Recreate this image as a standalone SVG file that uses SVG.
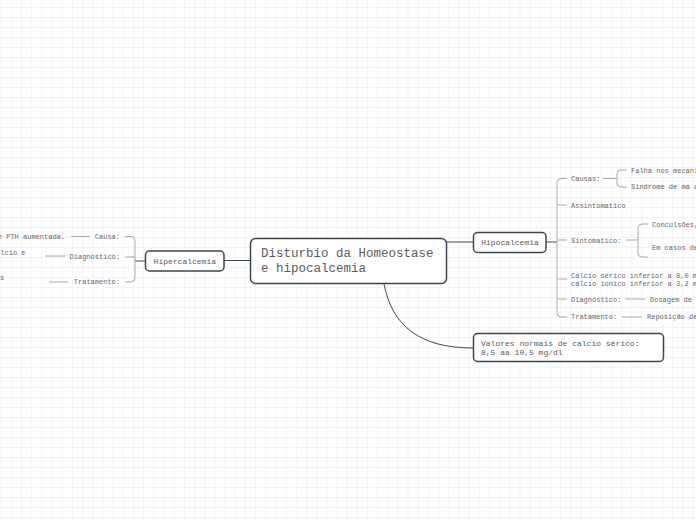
<svg xmlns="http://www.w3.org/2000/svg" width="696" height="520" viewBox="0 0 696 520">
<defs>
<pattern id="grid" x="0.8" y="7" width="10.17" height="10" patternUnits="userSpaceOnUse">
<path d="M0.5,0 V10 M0,0.5 H10.17" fill="none" stroke="#f3f3f3" stroke-width="1"/>
</pattern>
<style>
.node{fill:#fff;stroke:#3b4650;stroke-width:1.5}
.main{fill:none;stroke:#3b4650;stroke-width:1}
.sub{fill:none;stroke:#a8a8a8;stroke-width:1}
.t{font-family:"Courier New",Courier,"Nimbus Mono PS","FreeMono","Liberation Mono",monospace;fill:#5a5a5a}
.big{font-size:12.5px}
.mid{font-size:8px}
.sm{font-size:7px;fill:#666}
</style>
</defs>
<rect width="696" height="520" fill="#fff"/>
<rect width="696" height="520" fill="url(#grid)"/>

<g id="connectors">
<path class="main" d="M446,242 H473"/>
<path class="main" d="M224,260.5 H250"/>
<path class="main" d="M384,284 C392,326 420,348 473,348"/>
<path class="main" d="M546,242 H557"/>
<path class="main" d="M145,261 H135"/>
<path class="sub" d="M567,178.5 H561 Q557,178.5 557,182.5 V313 Q557,317 561,317 H567 M557,205 H567 M557,240 H567 M557,279 H567 M557,299 H567"/>
<path class="sub" d="M603,178.5 H617 M627,170 H621 Q617,170 617,174 V183 Q617,187 621,187 H627"/>
<path class="sub" d="M626,240 H638 M648,224 H642 Q638,224 638,228 V253 Q638,257 642,257 H648"/>
<path class="sub" d="M625,299 H645 M622,317 H642"/>
<path class="sub" d="M125,236.5 H131 Q135,236.5 135,240.5 V278 Q135,282 131,282 H125 M135,257 H125"/>
<path class="sub" d="M71,236.5 H90 M45,256 H65 M49,282 H68"/>
</g>

<g id="central">
<rect class="node" x="250.5" y="238.5" width="196" height="45" rx="5"/>
<text class="t big" x="261" y="257">Disturbio da Homeostase</text>
<text class="t big" x="261" y="272">e hipocalcemia</text>
</g>

<g id="hipocalcemia">
<rect class="node" x="473.5" y="232.5" width="72.5" height="20" rx="4"/>
<text class="t mid" x="510" y="245" text-anchor="middle">Hipocalcemia</text>
</g>

<g id="hipercalcemia">
<rect class="node" x="145.5" y="251" width="78.5" height="20" rx="4"/>
<text class="t mid" x="184.8" y="263.5" text-anchor="middle">Hipercalcemia</text>
</g>

<g id="valores">
<rect class="node" x="473.5" y="333.5" width="190" height="28" rx="4"/>
<text class="t mid" x="481" y="345.5">Valores normais de calcio sérico:</text>
<text class="t mid" x="481" y="354.5">8,5 aa 10,5 mg/dl</text>
</g>

<g id="hipo-causas"><text class="t sm" x="571" y="181">Causas:</text></g>
<g id="hipo-falha"><text class="t sm" x="631" y="172.5">Falha nos mecanismos</text></g>
<g id="hipo-sindrome"><text class="t sm" x="631" y="189">Sindrome de má absorção</text></g>
<g id="hipo-assint"><text class="t sm" x="571" y="207.5">Assintomatico</text></g>
<g id="hipo-sint"><text class="t sm" x="571" y="242.5">Sintomatico:</text></g>
<g id="hipo-conv"><text class="t sm" x="652" y="226.5">Conculsões,</text></g>
<g id="hipo-casos"><text class="t sm" x="652" y="250">Em casos de</text></g>
<g id="hipo-calcio">
<text class="t sm" x="571" y="277.5">Cálcio sérico inferior a 8,0 mg</text>
<text class="t sm" x="571" y="286">cálcio ionico inferior a 3,2 mg</text>
</g>
<g id="hipo-diag"><text class="t sm" x="571" y="301.5">Diagnóstico:</text></g>
<g id="hipo-dosagem"><text class="t sm" x="650" y="301.5">Dosagem de</text></g>
<g id="hipo-trat"><text class="t sm" x="571" y="319">Tratamento:</text></g>
<g id="hipo-repos"><text class="t sm" x="647" y="319">Reposição de</text></g>

<g id="hiper-causa"><text class="t sm" x="120" y="238.5" text-anchor="end">Causa:</text></g>
<g id="hiper-pth"><text class="t sm" x="65" y="238.5" text-anchor="end">e PTH aumentada.</text></g>
<g id="hiper-diag"><text class="t sm" x="120" y="259" text-anchor="end">Diagnóstico:</text></g>
<g id="hiper-calcio"><text class="t sm" x="25.5" y="255" text-anchor="end">cálcio e</text></g>
<g id="hiper-trat"><text class="t sm" x="120" y="284" text-anchor="end">Tratamento:</text></g>
<g id="hiper-s"><text class="t sm" x="4.2" y="279.5" text-anchor="end">s</text></g>
</svg>
